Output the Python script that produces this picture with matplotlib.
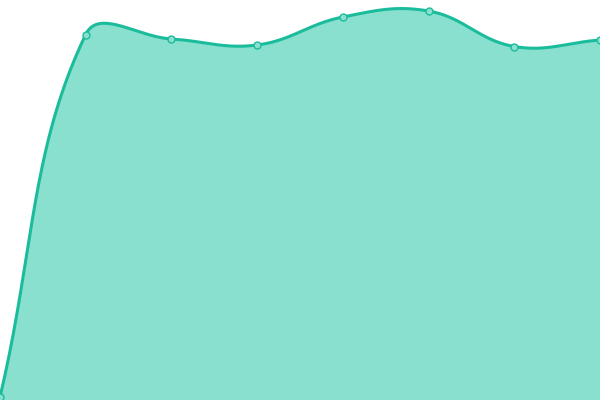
import numpy as np
import matplotlib
matplotlib.use("Agg")
import matplotlib.pyplot as plt

# data (y axis runs 0..400, one point per category)
labels = ["A", "B", "C", "D", "E", "F", "G", "H"]
values = [3, 365.5, 361, 355, 383, 389, 353.5, 360]

line_color = "#1abc9c"
fill_color = "#8ae0cf"
tension = 0.4


def spline_path(px, py, t=0.4, n=40):
    # chart.js style bezier through the points, done in pixel space
    pts = np.column_stack([px, py])
    cps = []
    for i in range(len(pts)):
        p0 = pts[max(i - 1, 0)]
        p1 = pts[i]
        p2 = pts[min(i + 1, len(pts) - 1)]
        d01 = np.hypot(*(p1 - p0))
        d12 = np.hypot(*(p2 - p1))
        s = d01 + d12
        fa = t * d01 / s if s else 0
        fb = t * d12 / s if s else 0
        cps.append((p1 - fa * (p2 - p0), p1 + fb * (p2 - p0)))
    xs, ys = [], []
    u = np.linspace(0, 1, n)[:, None]
    for i in range(len(pts) - 1):
        a, b = pts[i], pts[i + 1]
        c1, c2 = cps[i][1], cps[i + 1][0]
        seg = (1 - u) ** 3 * a + 3 * (1 - u) ** 2 * u * c1 + 3 * (1 - u) * u ** 2 * c2 + u ** 3 * b
        xs.extend(seg[:, 0])
        ys.extend(seg[:, 1])
    return np.array(xs), np.array(ys)


fig = plt.figure(figsize=(6, 4), dpi=100)
ax = fig.add_axes([0, 0, 1, 1])
n = len(values)
ax.set_xlim(0, n - 1)
ax.set_ylim(0, 400)
ax.axis("off")

xpx_per = 600 / (n - 1)
x = np.arange(n)
sx, sy = spline_path(x * xpx_per, np.array(values, float), tension)
sx = sx / xpx_per

ax.fill_between(sx, sy, 0, color=fill_color, lw=0)
ax.plot(sx, sy, color=line_color, lw=2.2, solid_capstyle="round")
ax.plot(x, values, "o", ms=5, mfc=fill_color, mec=line_color, mew=1, clip_on=False)

fig.savefig("out.png", dpi=100)
